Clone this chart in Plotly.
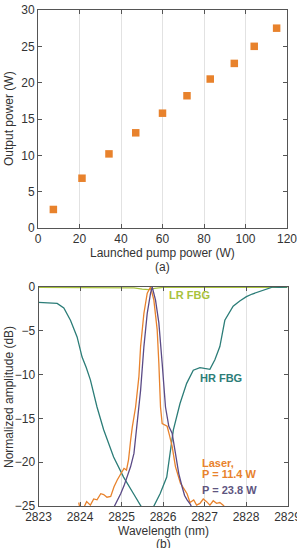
import plotly.graph_objects as go

# ---- (a) output vs pump ----
pump_power = [7.4, 21.2, 34.2, 47.1, 60.0, 71.8, 83.0, 94.6, 104.2, 115.0]
output_power = [2.55, 6.85, 10.2, 13.1, 15.8, 18.2, 20.5, 22.65, 25.0, 27.5]

# ---- (b) spectra ----
lr_wl = [2823.0, 2823.5, 2824.0, 2824.5, 2825.0, 2825.3, 2825.5, 2825.65, 2825.8, 2826.0, 2826.5, 2827.0, 2827.5, 2828.0, 2828.5, 2829.0]
lr_db = [-0.05, -0.05, -0.05, -0.05, -0.05, -0.1, -0.25, -0.3, -0.15, -0.05, -0.03, -0.03, -0.03, -0.03, -0.03, -0.03]

hr_wl = [2823.0, 2823.2, 2823.45, 2823.61, 2823.77, 2823.93, 2824.05, 2824.15, 2824.25, 2824.41, 2824.57,
         2824.81, 2825.05, 2825.29, 2825.45, 2825.53, 2825.61, 2825.77, 2825.93, 2826.09, 2826.17, 2826.25,
         2826.41, 2826.57, 2826.73, 2826.89, 2827.0, 2827.13, 2827.25, 2827.37, 2827.49, 2827.69, 2827.85,
         2828.01, 2828.15, 2828.33, 2828.5, 2828.65, 2828.8, 2829.0]
hr_db = [-1.75, -1.8, -1.87, -2.4, -3.8, -5.7, -8.0, -9.2, -10.6, -13.7, -16.3,
         -19.4, -21.7, -23.6, -24.9, -25.5, -25.3, -25.1, -23.6, -21.7, -19.0, -16.3,
         -13.3, -11.0, -9.5, -9.2, -9.3, -9.4, -8.3, -6.8, -3.8, -2.2, -1.6,
         -1.1, -0.8, -0.5, -0.25, 0.0, -0.05, 0.0]

laser1_wl = [2823.97, 2824.0, 2824.05, 2824.16, 2824.25, 2824.33, 2824.41, 2824.5, 2824.57, 2824.65, 2824.74,
             2824.82, 2824.9, 2824.98, 2825.06, 2825.12, 2825.17, 2825.22, 2825.26, 2825.34, 2825.42, 2825.46,
             2825.54, 2825.62, 2825.7, 2825.78, 2825.86, 2825.9, 2825.94, 2825.98, 2826.04, 2826.1, 2826.16,
             2826.22, 2826.3, 2826.42, 2826.58, 2826.65, 2826.74, 2826.81, 2826.89, 2826.97, 2827.05,
             2827.13, 2827.21, 2827.29, 2827.37, 2827.45, 2827.55]
laser1_db = [-24.6, -25.3, -25.6, -24.5, -24.9, -24.2, -24.3, -23.6, -23.7, -24.0, -23.9,
             -22.8, -22.0, -21.3, -20.7, -20.9, -19.7, -17.5, -16.0, -13.7, -10.2, -6.8,
             -3.0, -0.7, 0.0, -1.5, -4.9, -8.7, -13.7, -15.6, -15.8, -15.9, -17.0,
             -18.2, -20.5, -22.4, -23.6, -24.6, -24.3, -24.9, -24.7, -24.2, -24.5,
             -24.9, -24.4, -24.7, -24.6, -24.9, -25.5]

laser2_wl = [2824.8, 2824.9, 2824.98, 2825.06, 2825.14, 2825.22, 2825.3, 2825.38, 2825.46,
             2825.54, 2825.62, 2825.7, 2825.74, 2825.82, 2825.9, 2825.98, 2826.06, 2826.14, 2826.22, 2826.3,
             2826.38, 2826.46, 2826.52, 2826.58, 2826.66, 2826.72]
laser2_db = [-25.3, -24.4, -23.6, -22.7, -21.7, -20.5, -19.0, -15.2, -11.8,
             -6.8, -3.0, -0.7, 0.0, -1.5, -4.1, -8.7, -13.7, -15.9, -16.7, -19.0,
             -21.3, -22.8, -23.8, -24.3, -24.8, -25.5]

ORANGE = "#E8822C"
PURPLE = "#5A4A86"
TEAL = "#2C7D78"
GREEN = "#A8C23C"
AXIS = "#555555"
GRID = "#E2E2E2"
FONT = "Liberation Sans, Arial, sans-serif"

W, H = 297, 548

def px(x):
    return x / W

def py(y):
    return 1 - y / H

fig = go.Figure()

fig.add_trace(go.Scatter(x=pump_power, y=output_power, mode="markers",
                         marker=dict(symbol="square", size=7.5, color=ORANGE, line=dict(width=0)),
                         xaxis="x", yaxis="y", showlegend=False))

fig.add_trace(go.Scatter(x=lr_wl, y=lr_db, mode="lines", line=dict(color=GREEN, width=1.3),
                         xaxis="x2", yaxis="y2", showlegend=False))
fig.add_trace(go.Scatter(x=hr_wl, y=hr_db, mode="lines", line=dict(color=TEAL, width=1.3),
                         xaxis="x2", yaxis="y2", showlegend=False))
fig.add_trace(go.Scatter(x=laser1_wl, y=laser1_db, mode="lines", line=dict(color=ORANGE, width=1.3),
                         xaxis="x2", yaxis="y2", showlegend=False))
fig.add_trace(go.Scatter(x=laser2_wl, y=laser2_db, mode="lines", line=dict(color=PURPLE, width=1.3),
                         xaxis="x2", yaxis="y2", showlegend=False))

axis_common = dict(showline=True, linecolor=AXIS, linewidth=1, mirror="ticks",
                   ticks="inside", ticklen=4, tickcolor=AXIS, zeroline=False, automargin=False,
                   tickfont=dict(family=FONT, size=12, color="#333333"))

fig.update_layout(
    width=W, height=H,
    margin=dict(l=0, r=0, t=0, b=0),
    paper_bgcolor="white", plot_bgcolor="white",
    font=dict(family=FONT, size=12, color="#333333"),
    xaxis=dict(domain=[px(38), px(287)], anchor="y", range=[0, 120],
               tickvals=[0, 20, 40, 60, 80, 100, 120], showgrid=True, gridcolor=GRID, gridwidth=1,
               ticklabeloverflow="allow", **axis_common),
    yaxis=dict(domain=[py(228), py(10)], anchor="x", range=[0, 30],
               tickvals=[0, 5, 10, 15, 20, 25, 30], showgrid=False, **axis_common),
    xaxis2=dict(domain=[px(38.5), px(287.5)], anchor="y2", range=[2823, 2829],
                tickvals=[2823, 2824, 2825, 2826, 2827, 2828, 2829], showgrid=True, gridcolor=GRID,
                gridwidth=1, ticklabeloverflow="allow", **axis_common),
    yaxis2=dict(domain=[py(506), py(287)], anchor="x2", range=[-25, 0],
                tickvals=[-25, -20, -15, -10, -5, 0], showgrid=False, **axis_common),
)

def ann(text, x, y, xref="paper", yref="paper", size=12, color="#333333", angle=0,
        xanchor="center", yanchor="middle", bold=False):
    if bold:
        text = "<b>" + text + "</b>"
    fig.add_annotation(text=text, x=x, y=y, xref=xref, yref=yref, showarrow=False,
                       font=dict(family=FONT, size=size, color=color), textangle=angle,
                       xanchor=xanchor, yanchor=yanchor)

ann("Launched pump power (W)", px(162), py(252.5), size=12)
ann("(a)", px(162), py(266.5), size=12)
ann("Output power (W)", px(9), py(119), size=12, angle=-90)

ann("Wavelength (nm)", px(163), py(531), size=12)
ann("(b)", px(163), py(544), size=12)
ann("Normalized amplitude (dB)", px(9), py(397), size=12, angle=-90)

ann("LR FBG", 2826.65, -0.9, xref="x2", yref="y2", size=11, color=GREEN, bold=True)
ann("HR FBG", 2827.39, -10.35, xref="x2", yref="y2", size=11, color=TEAL, bold=True)
ann("Laser,", 2826.9, -20.05, xref="x2", yref="y2", size=11, color=ORANGE, bold=True, xanchor="left")
ann("P = 11.4 W", 2826.9, -21.35, xref="x2", yref="y2", size=11, color=ORANGE, bold=True, xanchor="left")
ann("P = 23.8 W", 2826.9, -23.2, xref="x2", yref="y2", size=11, color="#5E5580", bold=True, xanchor="left")

fig.write_html("out.html")
